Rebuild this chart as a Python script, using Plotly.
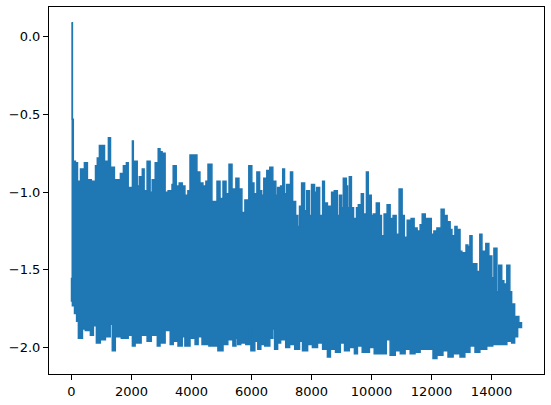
import plotly.graph_objects as go

# Upper envelope of the dense loss curve (step, value)
upper_step = [0, 30, 60, 130, 200, 300, 430, 530, 660, 800, 860, 930, 1100, 1230, 1300, 1430,
              1630, 1730, 1830, 1890, 2030, 2060, 2190, 2260, 2360, 2420, 2520, 2620, 2690, 2790,
              2890, 2950, 3020, 3120, 3220, 3350, 3390, 3490, 3590, 3690, 3780, 3880, 3950, 4050,
              4180, 4280, 4380, 4480, 4550, 4680, 4780, 4850, 4950, 5050, 5150, 5250, 5350, 5480,
              5580, 5680, 5780, 5910, 6010, 6080, 6180, 6270, 6340, 6410, 6510, 6610, 6710, 6810,
              6870, 6970, 7040, 7100, 7170, 7300, 7370, 7470, 7540, 7600, 7670, 7770, 7840, 7930,
              8000, 8100, 8170, 8270, 8370, 8430, 8530, 8670, 8760, 8860, 8930, 9000, 9060, 9160,
              9200, 9260, 9330, 9400, 9500, 9560, 9660, 9730, 9830, 9890, 9990, 10060, 10160,
              10260, 10330, 10420, 10520, 10620, 10720, 10820, 10920, 11020, 11090, 11190, 11320,
              11420, 11520, 11620, 11690, 11790, 11850, 11990, 12080, 12180, 12280, 12320, 12420,
              12520, 12620, 12680, 12780, 12850, 12950, 13010, 13150, 13210, 13280, 13350, 13450,
              13510, 13610, 13680, 13810, 13910, 14010, 14080, 14180, 14240, 14340, 14410, 14510,
              14610, 14670, 14770, 14840, 14910, 14999]
upper_val = [0.09, -0.53, -0.80, -0.81, -0.93, -0.85, -0.81, -0.92, -0.93, -0.83, -0.78, -0.70,
             -0.80, -0.65, -0.84, -0.92, -0.88, -0.83, -0.81, -0.97, -0.67, -0.80, -0.96, -0.90,
             -0.85, -0.99, -0.80, -1.00, -0.92, -0.81, -0.72, -0.74, -0.75, -1.00, -0.99, -0.95,
             -0.83, -0.96, -0.94, -0.96, -1.02, -0.99, -0.76, -0.76, -0.87, -0.94, -0.96, -0.93,
             -0.82, -1.06, -1.06, -0.93, -1.04, -0.93, -1.01, -0.82, -0.98, -0.91, -0.98, -1.13,
             -1.05, -0.83, -0.94, -1.01, -0.87, -0.99, -1.02, -0.91, -0.86, -0.84, -0.93, -1.02,
             -0.97, -0.96, -0.85, -1.01, -0.95, -0.87, -1.06, -1.15, -1.22, -1.09, -0.94, -1.12,
             -0.99, -1.15, -0.95, -1.00, -0.97, -1.15, -0.93, -1.07, -1.09, -1.00, -0.99, -1.15,
             -1.02, -1.10, -0.91, -0.96, -1.10, -0.90, -1.10, -1.17, -1.10, -1.08, -1.01, -1.14,
             -0.87, -1.02, -1.15, -1.14, -1.07, -1.15, -1.28, -1.14, -1.08, -1.17, -1.15, -1.27,
             -0.98, -1.15, -1.29, -1.18, -1.17, -1.23, -1.25, -1.21, -1.14, -1.17, -1.17, -1.27,
             -1.25, -1.23, -1.28, -1.11, -1.15, -1.19, -1.24, -1.28, -1.22, -1.24, -1.38, -1.39,
             -1.34, -1.35, -1.28, -1.46, -1.46, -1.51, -1.27, -1.38, -1.33, -1.41, -1.55, -1.36,
             -1.64, -1.47, -1.57, -1.59, -1.47, -1.64, -1.72, -1.80, -1.80, -1.84, -1.87]

# Lower envelope (step, value)
lower_step = [0, 30, 100, 170, 230, 365, 460, 630, 730, 830, 960, 1130, 1290, 1360, 1460, 1660,
              1890, 2030, 2120, 2320, 2520, 2660, 2860, 2950, 3120, 3290, 3390, 3550, 3690, 3780,
              3950, 4120, 4220, 4350, 4580, 4880, 5050, 5210, 5380, 5480, 5540, 5640, 5810, 5940,
              5980, 6110, 6210, 6310, 6440, 6610, 6710, 6770, 6870, 6970, 7140, 7270, 7440, 7600,
              7700, 7870, 8030, 8200, 8370, 8530, 8630, 8800, 8960, 9100, 9260, 9430, 9530, 9690,
              9930, 10090, 10260, 10490, 10620, 10790, 10960, 11120, 11290, 11450, 11620, 11850,
              12050, 12180, 12380, 12550, 12720, 12950, 13110, 13280, 13450, 13610, 13840, 14040,
              14280, 14510, 14670, 14770, 14870, 14999]
lower_val = [-1.55, -1.70, -1.73, -1.78, -1.83, -1.94, -1.88, -1.89, -1.92, -1.86, -1.97, -1.95,
             -1.93, -1.85, -2.02, -1.93, -1.94, -1.92, -1.99, -1.97, -1.92, -1.96, -1.92, -1.99,
             -1.97, -1.89, -1.98, -1.96, -1.99, -1.93, -1.99, -1.94, -1.98, -1.93, -1.98, -1.99,
             -2.02, -1.98, -1.95, -1.99, -1.94, -1.98, -1.97, -1.98, -1.88, -2.02, -1.96, -2.01,
             -1.98, -1.99, -1.94, -1.88, -2.01, -1.97, -1.95, -2.00, -1.98, -2.01, -1.96, -2.02,
             -1.98, -2.00, -1.97, -2.01, -2.06, -2.01, -2.03, -1.97, -2.02, -2.00, -2.04, -1.99,
             -2.03, -2.00, -2.04, -2.04, -1.95, -2.05, -2.02, -2.04, -2.01, -2.04, -2.03, -2.01,
             -2.01, -2.07, -2.05, -2.02, -2.06, -2.04, -2.06, -2.03, -1.99, -2.03, -2.01, -1.99,
             -1.98, -1.98, -1.96, -1.97, -1.93, -1.87]

x_tickvals = [0, 2000, 4000, 6000, 8000, 10000, 12000, 14000]
x_ticktext = ["0", "2000", "4000", "6000", "8000", "10000", "12000", "14000"]
y_tickvals = [0.0, -0.5, -1.0, -1.5, -2.0]
y_ticktext = ["0.0", "\u22120.5", "\u22121.0", "\u22121.5", "\u22122.0"]

BLUE = "#1f77b4"

xs = upper_step + lower_step[::-1]
ys = upper_val + lower_val[::-1]

fig = go.Figure()
fig.add_trace(go.Scatter(x=xs, y=ys, mode="lines", fill="toself", fillcolor=BLUE,
                         line=dict(color=BLUE, width=1.5, shape="hv"),
                         hoverinfo="skip", showlegend=False))

axis_common = dict(showgrid=False, zeroline=False, showline=True, linecolor="black",
                   linewidth=1.1, mirror=True, ticks="outside", ticklen=5, tickwidth=1.1,
                   tickcolor="black", tickfont=dict(family="DejaVu Sans", size=13, color="black"))

fig.update_xaxes(range=[-750, 15749], tickvals=x_tickvals, ticktext=x_ticktext, **axis_common)
fig.update_yaxes(range=[-2.17, 0.192], tickvals=y_tickvals, ticktext=y_ticktext, **axis_common)

fig.update_layout(width=551, height=405, margin=dict(l=49, r=6, t=7, b=29),
                  plot_bgcolor="white", paper_bgcolor="white", showlegend=False)

fig.write_html("out.html")
